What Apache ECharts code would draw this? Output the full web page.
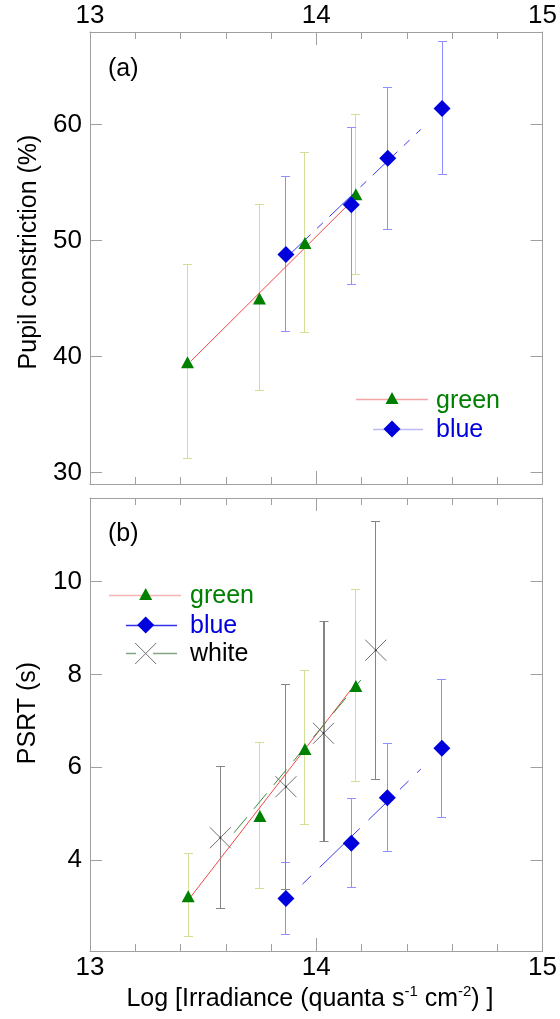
<!DOCTYPE html>
<html><head><meta charset="utf-8">
<script src="https://cdn.jsdelivr.net/npm/echarts@6/dist/echarts.min.js"></script>
<style>html,body{margin:0;padding:0;background:#fff}#c{width:560px;height:1019px}</style>
</head><body><div id="c"></div>
<script>
// ---------- tick labels ----------
const xTicks = [13, 14, 15];
const yTicksA = [30, 40, 50, 60];
const yTicksB = [4, 6, 8, 10];

// ---------- panel (a): pupil constriction (%) ----------
const aGreenX  = [13.431, 13.749, 13.950, 14.175];
const aGreenY  = [39.5, 45.0, 49.8, 54.0];
const aGreenLo = [31.2, 37.1, 42.1, 47.1];
const aGreenHi = [47.9, 53.1, 57.6, 60.9];
const aBlueX   = [13.866, 14.155, 14.316, 14.556];
const aBlueY   = [48.8, 53.1, 57.1, 61.4];
const aBlueLo  = [42.2, 46.2, 51.0, 55.7];
const aBlueHi  = [55.5, 59.8, 63.2, 67.2];
const aGreenFitX = [13.446, 14.172];
const aGreenFitY = [39.6, 53.7];
const aBlueFitX  = [13.866, 14.462];
const aBlueFitY  = [48.5, 59.6];

// ---------- panel (b): PSRT (s) ----------
const bGreenX  = [13.434, 13.751, 13.950, 14.175];
const bGreenY  = [3.22, 4.95, 6.39, 7.75];
const bGreenLo = [2.35, 3.39, 4.76, 5.70];
const bGreenHi = [4.14, 6.54, 8.08, 9.83];
const bBlueX   = [13.866, 14.155, 14.314, 14.555];
const bBlueY   = [3.17, 4.36, 5.34, 6.41];
const bBlueLo  = [2.40, 3.41, 4.18, 4.92];
const bBlueHi  = [3.95, 5.33, 6.52, 7.90];
const bWhiteX  = [13.576, 13.866, 14.032, 14.263];
const bWhiteY  = [4.48, 5.58, 6.73, 8.52];
const bWhiteLo = [2.96, 3.37, 4.39, 5.74];
const bWhiteHi = [6.01, 7.79, 9.14, 11.30];
const bGreenFitX = [13.446, 14.153];
const bGreenFitY = [3.21, 7.67];
const bWhiteFitX = [13.637, 14.197];
const bWhiteFitY = [4.59, 7.88];
const bBlueFitX  = [13.939, 14.462];
const bBlueFitY  = [3.48, 5.96];

// ---------- styling ----------
const FONT = 'Liberation Sans, Arial, sans-serif';
const AX = '#a0a0a0';
const C_GREEN = '#008000', C_BLUE = '#0000dd', C_GRAY = '#707070';
const E_GREEN = '#d2df96', E_BLUE = '#8f8fff', E_GRAY = '#858585';

const zip2 = (xs, ys) => xs.map((x, i) => [x, ys[i]]);
const zip3 = (xs, lo, hi) => xs.map((x, i) => [x, lo[i], hi[i]]);
const px = v => Math.round(v - 0.5) + 0.5;

function errRender(color, capW, widthFn) {
  return function (params, api) {
    const x = api.value(0), lo = api.value(1), hi = api.value(2);
    const p1 = api.coord([x, lo]), p2 = api.coord([x, hi]);
    const w = widthFn ? widthFn(params.dataIndex) : 1;
    const cx = w === 1 ? px(p1[0]) : Math.round(p1[0]);
    const y1 = px(p1[1]), y2 = px(p2[1]);
    const st = { stroke: color, lineWidth: w, fill: null };
    const cs = { stroke: color, lineWidth: 1, fill: null };
    return { type: 'group', children: [
      { type: 'line', shape: { x1: cx, y1: y1, x2: cx, y2: y2 }, style: st },
      { type: 'line', shape: { x1: cx - capW / 2, y1: y1, x2: cx + capW / 2, y2: y1 }, style: cs },
      { type: 'line', shape: { x1: cx - capW / 2, y1: y2, x2: cx + capW / 2, y2: y2 }, style: cs }
    ]};
  };
}
function crossRender(color, size) {
  return function (params, api) {
    const p = api.coord([api.value(0), api.value(1)]);
    const h = size / 2;
    const st = { stroke: color, lineWidth: 1, fill: null };
    return { type: 'group', children: [
      { type: 'line', shape: { x1: p[0] - h, y1: p[1] - h, x2: p[0] + h, y2: p[1] + h }, style: st },
      { type: 'line', shape: { x1: p[0] - h, y1: p[1] + h, x2: p[0] + h, y2: p[1] - h }, style: st },
      { type: 'circle', shape: { cx: p[0], cy: p[1], r: 1 }, style: { fill: '#333' } }
    ]};
  };
}

function xAxisCfg(gridIndex, position, showLabel) {
  return {
    type: 'value', gridIndex, position, min: 13, max: 15, interval: 1,
    axisLine: { show: true, onZero: false, lineStyle: { color: AX, width: 1 } },
    axisTick: { show: true, inside: true, length: 13, lineStyle: { color: AX } },
    minorTick: { show: true, splitNumber: 5, length: 7, lineStyle: { color: AX } },
    splitLine: { show: false }, minorSplitLine: { show: false },
    axisLabel: { show: showLabel, customValues: xTicks, margin: position === 'top' ? 3 : 4,
      fontFamily: FONT, fontSize: 26, color: '#000' }
  };
}
function yAxisCfg(gridIndex, position, min, max, ticks, showLabel) {
  return {
    type: 'value', gridIndex, position, min, max,
    axisLine: { show: true, onZero: false, lineStyle: { color: AX, width: 1 } },
    axisTick: { show: true, inside: true, length: 12, customValues: ticks, lineStyle: { color: AX } },
    splitLine: { show: false },
    axisLabel: { show: showLabel, customValues: ticks, margin: 8,
      fontFamily: FONT, fontSize: 26, color: '#000' }
  };
}

function txt(x, y, text, color, size, extra) {
  return Object.assign({ type: 'text', x, y, style: {
    text, fill: color, font: size + 'px ' + FONT, fontSize: size, fontFamily: FONT,
    align: 'left', textAlign: 'left', verticalAlign: 'middle', textVerticalAlign: 'middle' } }, extra || {});
}
function tri(cx, cy, w, h, color) {
  return { type: 'polygon', shape: { points: [[cx, cy - h / 2], [cx + w / 2, cy + h / 2], [cx - w / 2, cy + h / 2]] }, style: { fill: color } };
}
function dia(cx, cy, s, color) {
  const h = s / 2;
  return { type: 'polygon', shape: { points: [[cx, cy - h], [cx + h, cy], [cx, cy + h], [cx - h, cy]] }, style: { fill: color } };
}
function hline(x1, x2, y, color, dash) {
  return { type: 'line', shape: { x1, y1: y, x2, y2: y }, style: { stroke: color, lineWidth: 1.3, lineDash: dash || null } };
}
function errSeries(xi, yi, color, data, widthFn) {
  return { type: 'custom', xAxisIndex: xi, yAxisIndex: yi, z: 1, clip: true, silent: true,
    encode: { x: 0, y: [1, 2] }, itemStyle: { color: color, borderColor: color },
    renderItem: errRender(color, 9, widthFn), data };
}

const chart = echarts.init(document.getElementById('c'), null, { renderer: 'canvas' });
chart.setOption({
  animation: false,
  backgroundColor: '#fff',
  grid: [
    { left: 90, right: 17, top: 32, height: 452 },
    { left: 90, right: 17, top: 498, height: 453 }
  ],
  xAxis: [
    xAxisCfg(0, 'top', true),
    xAxisCfg(0, 'bottom', false),
    xAxisCfg(1, 'bottom', true),
    xAxisCfg(1, 'top', false)
  ],
  yAxis: [
    yAxisCfg(0, 'left', 29, 68, yTicksA, true),
    yAxisCfg(0, 'right', 29, 68, yTicksA, false),
    yAxisCfg(1, 'left', 2.04, 11.8, yTicksB, true),
    yAxisCfg(1, 'right', 2.04, 11.8, yTicksB, false)
  ],
  series: [
    // ---- panel (a)
    errSeries(0, 0, E_GREEN, zip3(aGreenX, aGreenLo, aGreenHi)),
    errSeries(0, 0, E_BLUE, zip3(aBlueX, aBlueLo, aBlueHi)),
    { type: 'line', xAxisIndex: 0, yAxisIndex: 0, z: 2, symbol: 'none', silent: true,
      lineStyle: { color: '#f04848', width: 1 }, data: zip2(aGreenFitX, aGreenFitY) },
    { type: 'line', xAxisIndex: 0, yAxisIndex: 0, z: 2, symbol: 'none', silent: true,
      lineStyle: { color: '#3a3aee', width: 1, type: [34, 9, 8, 9] }, data: zip2(aBlueFitX, aBlueFitY) },
    { type: 'scatter', xAxisIndex: 0, yAxisIndex: 0, z: 3, symbol: 'triangle', symbolSize: [13, 12],
      itemStyle: { color: C_GREEN, opacity: 1 }, data: zip2(aGreenX, aGreenY) },
    { type: 'scatter', xAxisIndex: 0, yAxisIndex: 0, z: 4, symbol: 'diamond', symbolSize: [17, 17],
      itemStyle: { color: C_BLUE, opacity: 1 }, data: zip2(aBlueX, aBlueY) },
    // ---- panel (b)
    errSeries(2, 2, E_GREEN, zip3(bGreenX, bGreenLo, bGreenHi)),
    errSeries(2, 2, E_BLUE, zip3(bBlueX, bBlueLo, bBlueHi)),
    errSeries(2, 2, E_GRAY, zip3(bWhiteX, bWhiteLo, bWhiteHi), i => (i === 2 ? 2 : 1)),
    { type: 'line', xAxisIndex: 2, yAxisIndex: 2, z: 2, symbol: 'none', silent: true,
      lineStyle: { color: '#f04848', width: 1 }, data: zip2(bGreenFitX, bGreenFitY) },
    { type: 'line', xAxisIndex: 2, yAxisIndex: 2, z: 2, symbol: 'none', silent: true,
      lineStyle: { color: '#3c8c3c', width: 1, type: [20, 11] }, data: zip2(bWhiteFitX, bWhiteFitY) },
    { type: 'line', xAxisIndex: 2, yAxisIndex: 2, z: 2, symbol: 'none', silent: true,
      lineStyle: { color: '#3a3aee', width: 1, type: [12, 12, 34, 10] }, data: zip2(bBlueFitX, bBlueFitY) },
    { type: 'custom', xAxisIndex: 2, yAxisIndex: 2, z: 3, clip: true, silent: true, encode: { x: 0, y: 1 },
      itemStyle: { color: C_GRAY }, renderItem: crossRender(C_GRAY, 21), data: zip2(bWhiteX, bWhiteY) },
    { type: 'scatter', xAxisIndex: 2, yAxisIndex: 2, z: 3, symbol: 'triangle', symbolSize: [13, 12],
      itemStyle: { color: C_GREEN, opacity: 1 }, data: zip2(bGreenX, bGreenY) },
    { type: 'scatter', xAxisIndex: 2, yAxisIndex: 2, z: 4, symbol: 'diamond', symbolSize: [17, 17],
      itemStyle: { color: C_BLUE, opacity: 1 }, data: zip2(bBlueX, bBlueY) }
  ],
  graphic: [
    // panel labels
    txt(108, 69, '(a)', '#000', 25),
    txt(108, 534, '(b)', '#000', 25),
    // legend (a)
    hline(356, 428, 399.5, '#f4a4a4'),
    tri(392, 398, 13, 12, C_GREEN),
    txt(436, 401, 'green', C_GREEN, 25),
    hline(373, 423, 429.5, '#babaf2'),
    dia(392, 429, 17, C_BLUE),
    txt(436, 430, 'blue', C_BLUE, 25),
    // legend (b)
    hline(109, 181, 595.5, '#f8b4b4'),
    tri(145.7, 594, 13, 12, C_GREEN),
    txt(190, 596, 'green', C_GREEN, 25),
    hline(126, 177, 625.5, '#3030ee'),
    dia(145.7, 625, 17, C_BLUE),
    txt(190, 626, 'blue', C_BLUE, 25),
    hline(126, 177, 653.5, '#80a880', [10, 17, 30]),
    { type: 'line', shape: { x1: 135.2, y1: 643, x2: 156.2, y2: 664 }, style: { stroke: C_GRAY, lineWidth: 1 } },
    { type: 'line', shape: { x1: 135.2, y1: 664, x2: 156.2, y2: 643 }, style: { stroke: C_GRAY, lineWidth: 1 } },
    txt(190, 654, 'white', '#000', 25),
    // axis titles
    txt(29, 252, 'Pupil constriction (%)', '#000', 25, { rotation: Math.PI / 2,
      style: { text: 'Pupil constriction (%)', fill: '#000', font: '25px ' + FONT, fontSize: 25, fontFamily: FONT,
        align: 'center', textAlign: 'center', verticalAlign: 'middle', textVerticalAlign: 'middle' } }),
    txt(28, 713, 'PSRT (s)', '#000', 25, { rotation: Math.PI / 2,
      style: { text: 'PSRT (s)', fill: '#000', font: '25px ' + FONT, fontSize: 25, fontFamily: FONT,
        align: 'center', textAlign: 'center', verticalAlign: 'middle', textVerticalAlign: 'middle' } }),
    { type: 'text', x: 310, y: 999, style: {
      text: 'Log [Irradiance (quanta s{sup|-1} cm{sup|-2}) ]', fill: '#000',
      font: '25px ' + FONT, fontSize: 25, fontFamily: FONT, lineHeight: 30,
      align: 'center', textAlign: 'center', verticalAlign: 'middle', textVerticalAlign: 'middle',
      rich: { sup: { fontSize: 15, fontFamily: FONT, lineHeight: 16, verticalAlign: 'top', fill: '#000' } } } }
  ]
});
</script>
</body></html>
